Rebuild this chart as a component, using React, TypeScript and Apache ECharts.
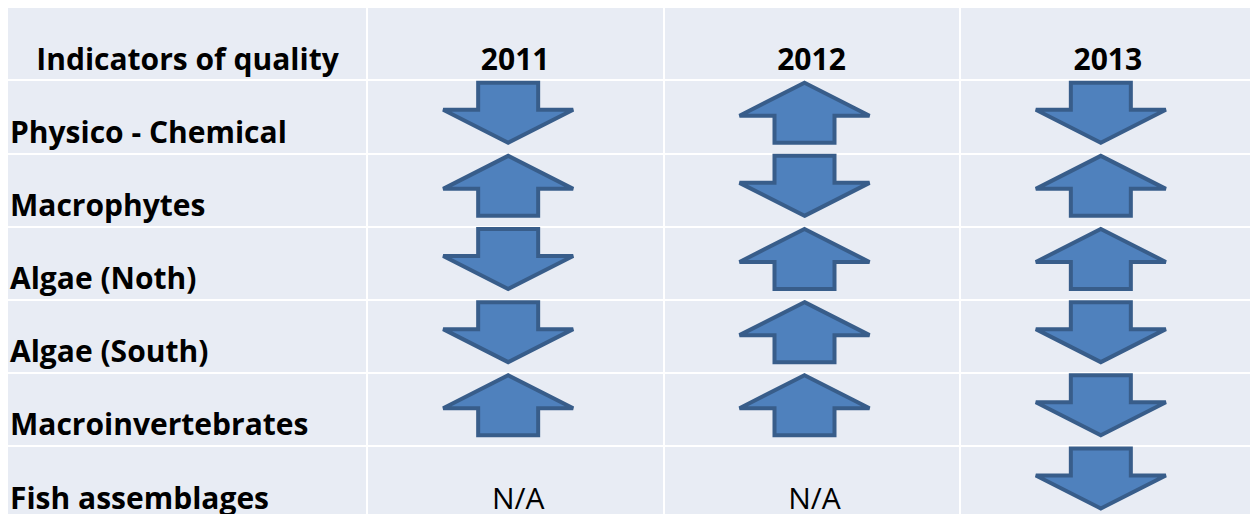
import React, { useEffect, useRef } from "react";
import * as echarts from "echarts";

// ---- data ----
const headerLabel = "Indicators of quality";
const years = ["2011", "2012", "2013"];
const indicators = [
  "Physico - Chemical",
  "Macrophytes",
  "Algae (Noth)",
  "Algae (South)",
  "Macroinvertebrates",
  "Fish assemblages",
];
// 1 = improvement (up arrow), -1 = decline (down arrow), null = N/A
const trend2011 = [-1, 1, -1, -1, 1, null];
const trend2012 = [1, -1, 1, 1, 1, null];
const trend2013 = [-1, 1, 1, -1, -1, -1];
const naLabel = "N/A";

// ---- styles ----
const BG = "#e8ecf4";
const LINE = "#ffffff";
const ARROW_FILL = "#4f81bd";
const ARROW_STROKE = "#385d8a";
const FONT = "Open Sans";
const FONT_SIZE = 30;
const TEXT_LIFT = 22;

export default function App() {
  const ref = useRef<HTMLDivElement>(null);

  useEffect(() => {
    if (!ref.current) return;
    const chart = echarts.init(ref.current, null, { renderer: "svg" });
    const trends = [trend2011, trend2012, trend2013];
    const trendData: number[][] = [];
    trends.forEach((arr, c) => {
      arr.forEach((v, r) => trendData.push([c, r + 1, v == null ? 0 : v]));
    });
    const rows = indicators.length + 1;

    const textStyle = (text: string, bold: boolean, align: string) => ({
      text,
      fill: "#000",
      fontFamily: FONT,
      fontSize: FONT_SIZE,
      fontWeight: bold ? "bold" : "normal",
      align,
      verticalAlign: "middle",
    });

    const yAxisBase = {
      type: "value",
      min: 0,
      max: rows,
      interval: 1,
      inverse: true,
      axisTick: { show: false },
      axisLabel: { show: false },
      splitLine: { show: true, lineStyle: { color: LINE, width: 2 } },
    };

    chart.setOption({
      animation: false,
      grid: [
        { left: 8, top: 7, width: 359, height: 512, show: true, backgroundColor: BG, borderWidth: 0 },
        { left: 367, top: 7, width: 889, height: 512, show: true, backgroundColor: BG, borderWidth: 0 },
      ],
      xAxis: [
        {
          gridIndex: 0, type: "value", min: 0, max: 1,
          axisLine: { show: false }, axisTick: { show: false }, axisLabel: { show: false },
          splitLine: { show: false },
        },
        {
          gridIndex: 1, type: "value", min: 0, max: years.length, interval: 1,
          axisLine: { show: false }, axisTick: { show: false }, axisLabel: { show: false },
          splitLine: { show: true, lineStyle: { color: LINE, width: 2 } },
        },
      ],
      yAxis: [
        { ...yAxisBase, gridIndex: 0, axisLine: { show: false } },
        { ...yAxisBase, gridIndex: 1, axisLine: { show: true, lineStyle: { color: LINE, width: 2 } } },
      ],
      series: [
        {
          type: "custom",
          name: "header-left",
          xAxisIndex: 0,
          yAxisIndex: 0,
          data: [[0.5, 0]],
          renderItem: (params: any, api: any) => {
            const [x] = api.coord([api.value(0), 0]);
            const yb = api.coord([0, 1])[1];
            return { type: "text", x, y: yb - TEXT_LIFT, style: textStyle(headerLabel, true, "center") };
          },
        },
        {
          type: "custom",
          name: "indicators",
          xAxisIndex: 0,
          yAxisIndex: 0,
          data: indicators.map((_, i) => [0, i + 1]),
          renderItem: (params: any, api: any) => {
            const [x] = api.coord([0, 0]);
            const yb = api.coord([0, api.value(1) + 1])[1];
            return {
              type: "text",
              x: x + 2,
              y: yb - TEXT_LIFT,
              style: textStyle(indicators[params.dataIndex], true, "left"),
            };
          },
        },
        {
          type: "custom",
          name: "years",
          xAxisIndex: 1,
          yAxisIndex: 1,
          data: years.map((_, i) => [i, 0]),
          renderItem: (params: any, api: any) => {
            const [x] = api.coord([api.value(0) + 0.5, 0]);
            const yb = api.coord([0, 1])[1];
            return { type: "text", x, y: yb - TEXT_LIFT, style: textStyle(years[params.dataIndex], true, "center") };
          },
        },
        {
          type: "custom",
          name: "trends",
          xAxisIndex: 1,
          yAxisIndex: 1,
          data: trendData,
          renderItem: (params: any, api: any) => {
            const col = api.value(0);
            const row = api.value(1);
            const dir = api.value(2);
            const [ccx, ccy] = api.coord([col + 0.5, row + 0.5]);
            if (!dir) {
              const yb = api.coord([0, row + 1])[1];
              return { type: "text", x: ccx + 3, y: yb - TEXT_LIFT, style: textStyle(naLabel, false, "center") };
            }
            const cx = ccx - 7;
            const cy = ccy - 4;
            const hw = 65, hs = 30, hh = 30, head = 33;
            const s = dir > 0 ? 1 : -1; // up: tip at top
            const tipY = cy - s * hh;
            const wingY = cy - s * (hh - head);
            const baseY = cy + s * hh;
            const points = [
              [cx, tipY],
              [cx + hw, wingY],
              [cx + hs, wingY],
              [cx + hs, baseY],
              [cx - hs, baseY],
              [cx - hs, wingY],
              [cx - hw, wingY],
            ];
            return {
              type: "polygon",
              shape: { points },
              style: { fill: ARROW_FILL, stroke: ARROW_STROKE, lineWidth: 4 },
            };
          },
        },
      ],
    });
    return () => chart.dispose();
  }, []);

  return (
    <div style={{ position: "absolute", left: 0, top: 0, width: 1250, height: 514, overflow: "hidden" }}>
      <div ref={ref} style={{ width: 1260, height: 530 }} />
    </div>
  );
}
